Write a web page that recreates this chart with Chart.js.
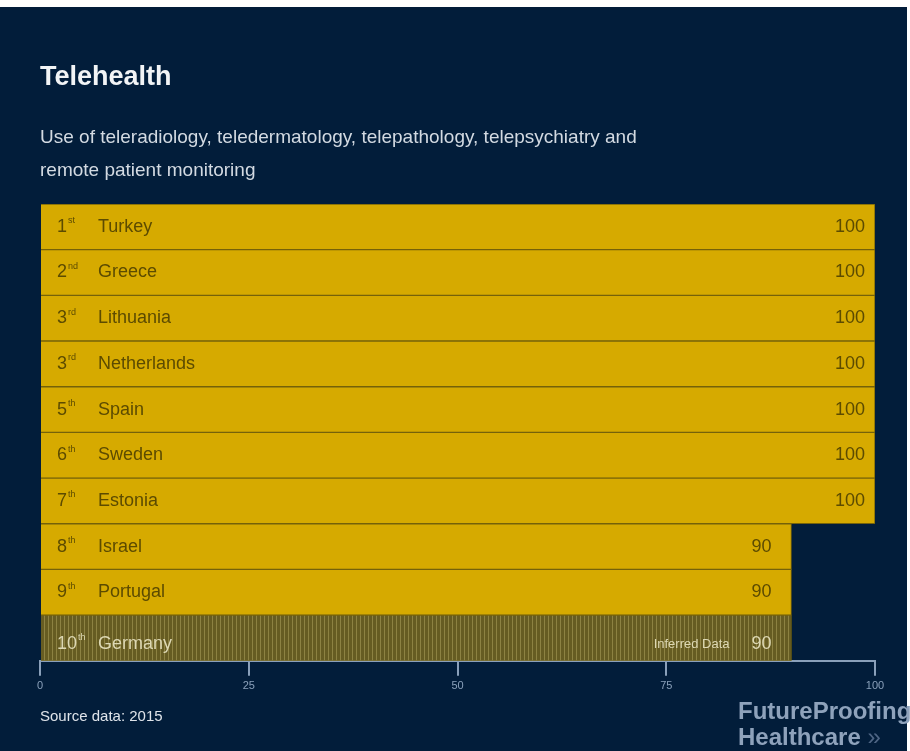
<!DOCTYPE html>
<html>
<head>
<meta charset="utf-8">
<script src="https://cdn.jsdelivr.net/npm/chart.js@4.4.1/dist/chart.umd.min.js"></script>
<style>
	body { margin: 0; background: #ffffff; width: 910px; height: 751px; overflow: hidden; font-family: "Liberation Sans", Arial, sans-serif; }
	#panel { position: absolute; left: 0; top: 7px; width: 907px; height: 744px; background: #021d3a; }
	#chartTele { position: absolute; left: 0; top: 0; }
	.txt { position: absolute; white-space: nowrap; }
	#title { left: 40px; top: 61px; font-size: 27px; font-weight: bold; color: #f2f4f6; }
	#sub { left: 40px; top: 120px; font-size: 19px; line-height: 33px; color: #d3dae2; }
	#source { left: 40px; top: 707px; font-size: 15px; color: #dfe4ea; }
	#logo { left: 738px; top: 698px; font-size: 24px; font-weight: bold; line-height: 26px; color: #8ea2bb; }
	#logo span { color: #4e6584; font-weight: normal; }
</style>
</head>
<body>
<div id="panel"></div>
<canvas id="chartTele" width="910" height="751"></canvas>
<div class="txt" id="title">Telehealth</div>
<div class="txt" id="sub">Use of teleradiology, teledermatology, telepathology, telepsychiatry and<br>remote patient monitoring</div>
<div class="txt" id="source">Source data: 2015</div>
<div class="txt" id="logo">FutureProofing<br>Healthcare <span>&raquo;</span></div>

<script>
const countries = ["Turkey", "Greece", "Lithuania", "Netherlands", "Spain", "Sweden", "Estonia", "Israel", "Portugal", "Germany"];
const ranks = ["1", "2", "3", "3", "5", "6", "7", "8", "9", "10"];
const suffixes = ["st", "nd", "rd", "rd", "th", "th", "th", "th", "th", "th"];
const values = [100, 100, 100, 100, 100, 100, 100, 90, 90, 90];
const inferred = [false, false, false, false, false, false, false, false, false, true];
const xTicks = [0, 25, 50, 75, 100];

const chartTele = document.getElementById("chartTele");
const FONT = "'Liberation Sans', Arial, sans-serif";

// motif raye pour les donnees deduites
let stripe = document.createElement("canvas");
stripe.width = 4;
stripe.height = 4;
let sctx = stripe.getContext("2d");
sctx.fillStyle = "#665c22";
sctx.fillRect(0, 0, 4, 4);
sctx.fillStyle = "#8d8242";
sctx.fillRect(0, 0, 1, 4);
const stripePattern = sctx.createPattern(stripe, "repeat");

let barColors = [];
inferred.forEach(function(inf){
	barColors.push(inf ? stripePattern : "#d6aa00");
})

// etiquettes dans les barres
const barLabels = {
	id: "barLabels",
	afterDatasetsDraw(chart) {
		const ctx = chart.ctx;
		const left = chart.chartArea.left;
		const meta = chart.getDatasetMeta(0);
		ctx.save();
		ctx.textBaseline = "middle";
		meta.data.forEach(function(bar, i){
			const y = bar.y + (inferred[i] ? 6 : 0);
			ctx.fillStyle = inferred[i] ? "#ddd8b4" : "#5c4b00";
			ctx.textAlign = "left";
			ctx.font = "18px " + FONT;
			ctx.fillText(ranks[i], left + 17, y);
			let w = ctx.measureText(ranks[i]).width;
			ctx.font = "9px " + FONT;
			ctx.fillText(suffixes[i], left + 18 + w, y - 6);
			ctx.font = "18px " + FONT;
			ctx.fillText(countries[i], left + 58, y);
			ctx.fillText(values[i], bar.x - 40, y);
			if (inferred[i]) {
				ctx.font = "13px " + FONT;
				ctx.textAlign = "right";
				ctx.fillText("Inferred Data", bar.x - 62, y);
			}
		})
		ctx.restore();
	}
};

const teleChart = new Chart(chartTele, {
	type: "bar",
	data: {
		labels: countries,
		datasets: [{
			data: values,
			backgroundColor: barColors,
			borderColor: "#75620a",
			borderWidth: 1,
			borderSkipped: "start",
			barPercentage: 1,
			categoryPercentage: 1
		}]
	},
	options: {
		indexAxis: "y",
		responsive: false,
		animation: false,
		layout: {
			padding: { left: 40, right: 35, top: 204, bottom: 54 }
		},
		plugins: {
			legend: { display: false },
			tooltip: { enabled: false }
		},
		scales: {
			y: {
				display: false
			},
			x: {
				min: 0,
				max: 100,
				afterBuildTicks: function(axis){
					axis.ticks = xTicks.map(function(v){ return { value: v }; });
				},
				grid: {
					drawOnChartArea: false,
					drawTicks: true,
					tickLength: 15,
					color: "#8aa0ba",
					lineWidth: 2
				},
				border: {
					display: true,
					color: "#8aa0ba",
					width: 2
				},
				ticks: {
					color: "#8aa0ba",
					padding: 4,
					font: { size: 11, family: FONT }
				}
			}
		}
	},
	plugins: [barLabels]
})
</script>
</body>
</html>
